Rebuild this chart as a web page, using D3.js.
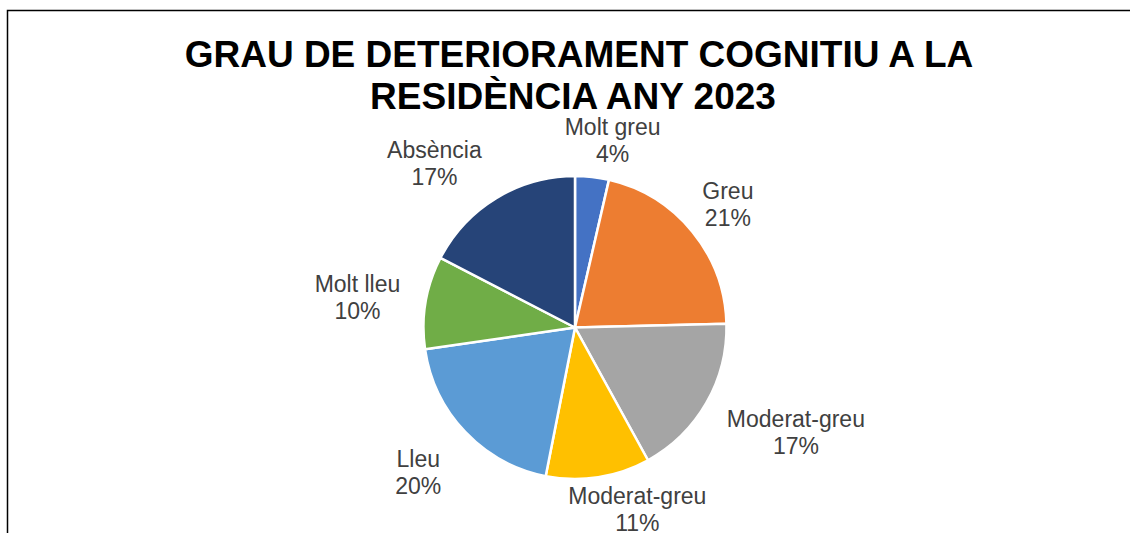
<!DOCTYPE html>
<html>
<head>
<meta charset="utf-8">
<script src="https://cdn.jsdelivr.net/npm/d3@7"></script>
<style>
  html, body { margin: 0; padding: 0; background: #fff; }
  svg { display: block; }
</style>
</head>
<body>
<div id="chart"></div>
<script>
// Pie chart data (share of residents per cognitive impairment level)
const categories = ['Molt greu', 'Greu', 'Moderat-greu', 'Moderat-greu', 'Lleu', 'Molt lleu', 'Absència'];
const values = [3.6, 21.0, 17.4, 11.1, 19.6, 9.9, 17.4];
const colors = ['#4472C4', '#ED7D31', '#A5A5A5', '#FFC000', '#5B9BD5', '#70AD47', '#264478'];
const titleLines = ['GRAU DE DETERIORAMENT COGNITIU A LA', 'RESIDÈNCIA ANY 2023'];

// small tweaks so labels sit where the spreadsheet put them
const labelNudge = [[14, -5], [8, -7], [21, 13], [27, 0], [-23, 18], [-16, 0], [-32, -7]];

const width = 1130;
const height = 533;
const cx = 575, cy = 327.5, radius = 151.5;

const svg = d3.select('#chart')
  .append('svg')
  .attr('width', width)
  .attr('height', height);

// chart frame (only top and left edges are visible)
svg.append('path')
  .attr('d', `M7.5,${height} V10.5 H${width}`)
  .attr('fill', 'none')
  .attr('stroke', '#000')
  .attr('stroke-width', 1.5);

// title
svg.append('g')
  .selectAll('text')
  .data(titleLines)
  .enter()
  .append('text')
  .attr('x', (d, i) => i === 0 ? 579 : 573)
  .attr('y', (d, i) => 67 + i * 42)
  .attr('text-anchor', 'middle')
  .attr('font-family', 'Liberation Sans, Arial, sans-serif')
  .attr('font-weight', 'bold')
  .attr('font-size', '37px')
  .attr('fill', '#000')
  .text(d => d);

const total = d3.sum(values);
const pie = d3.pie().sort(null).value(d => d);
const arcs = pie(values);
const arc = d3.arc().innerRadius(0).outerRadius(radius);

const g = svg.append('g').attr('transform', `translate(${cx},${cy})`);

g.selectAll('.slice')
  .data(arcs)
  .enter()
  .append('path')
  .attr('class', 'slice')
  .attr('d', arc)
  .attr('fill', (d, i) => colors[i])
  .attr('stroke', '#fff')
  .attr('stroke-width', 2.5)
  .attr('stroke-linejoin', 'round');

// data labels outside the pie
const pct = v => Math.round(v / total * 100) + '%';
const lineGap = 27, capH = 16.5, boxH = 44;

const labels = g.selectAll('.label')
  .data(arcs)
  .enter()
  .append('text')
  .attr('class', 'label')
  .attr('text-anchor', 'middle')
  .attr('font-family', 'Liberation Sans, Arial, sans-serif')
  .attr('font-size', '23px')
  .attr('fill', '#404040');

labels.append('tspan').attr('x', 0).attr('dy', 0).text((d, i) => categories[i]);
labels.append('tspan').attr('x', 0).attr('dy', lineGap).text(d => pct(d.value));

labels.each(function(d, i) {
  const w = this.getBBox().width;
  const mid = (d.startAngle + d.endAngle) / 2;
  const dx = Math.sin(mid), dy = -Math.cos(mid);
  const r = radius + 10;
  const bx = dx * r + dx * w / 2 + labelNudge[i][0];
  const by = dy * r + dy * boxH / 2 + labelNudge[i][1];
  // block center -> first baseline
  const base = by - (lineGap + capH) / 2 + capH;
  d3.select(this).attr('transform', `translate(${bx},${base})`);
});
</script>
</body>
</html>
